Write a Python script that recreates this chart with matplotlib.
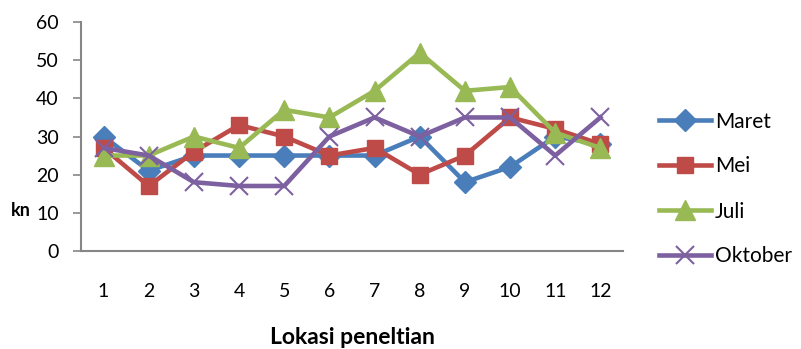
import matplotlib
matplotlib.use("Agg")
import matplotlib.pyplot as plt

plt.rcParams['font.family'] = ['Lato', 'DejaVu Sans']

lokasi = [1, 2, 3, 4, 5, 6, 7, 8, 9, 10, 11, 12]
maret = [30, 21, 25, 25, 25, 25, 25, 30, 18, 22, 30, 28]
mei = [27, 17, 26, 33, 30, 25, 27, 20, 25, 35, 32, 28]
juli = [25, 25, 30, 27, 37, 35, 42, 52, 42, 43, 31, 27]
oktober = [27, 25, 18, 17, 17, 30, 35, 30, 35, 35, 25, 35]
y_ticks = [0, 10, 20, 30, 40, 50, 60]

fig = plt.figure(figsize=(8.01, 3.49), dpi=100)
ax = fig.add_axes([81 / 801, 1 - 250.7 / 349, (623 - 81) / 801, (250.7 - 22.3) / 349])

lw = 3.3
ax.plot(lokasi, maret, color='#4A7EBB', lw=lw, marker='D', ms=11, label='Maret')
ax.plot(lokasi, mei, color='#BE4B48', lw=lw, marker='s', ms=12, label='Mei')
ax.plot(lokasi, juli, color='#98B954', lw=lw, marker='^', ms=14, label='Juli')
ax.plot(lokasi, oktober, color='#7D60A0', lw=lw, marker='x', ms=13, mew=1.5, label='Oktober')

ax.set_xlim(0.5, 12.5)
ax.set_ylim(0, 60)
ax.set_xticks(lokasi)
ax.set_yticks(y_ticks)
ax.tick_params(axis='x', length=0, pad=23, labelsize=14)
ax.tick_params(axis='y', length=6, width=1.2, color='#868686', pad=10, labelsize=14)
for s in ['top', 'right']:
    ax.spines[s].set_visible(False)
for s in ['left', 'bottom']:
    ax.spines[s].set_color('#868686')
    ax.spines[s].set_linewidth(1.5)

fig.text(352 / 801, 1 - 337 / 349, 'Lokasi peneltian', ha='center', va='center',
         fontsize=16.5, fontweight='bold')
fig.text(11 / 801, 1 - 210 / 349, 'kn', ha='left', va='center', fontsize=13, fontweight='bold')

leg = ax.legend(loc='center left', bbox_to_anchor=(659 / 801, 1 - 189 / 349),
                bbox_transform=fig.transFigure, frameon=False, fontsize=15,
                handlelength=2.5, handletextpad=0.2, labelspacing=1.2, borderpad=0,
                borderaxespad=0)

fig.savefig('out.png', dpi=100)
